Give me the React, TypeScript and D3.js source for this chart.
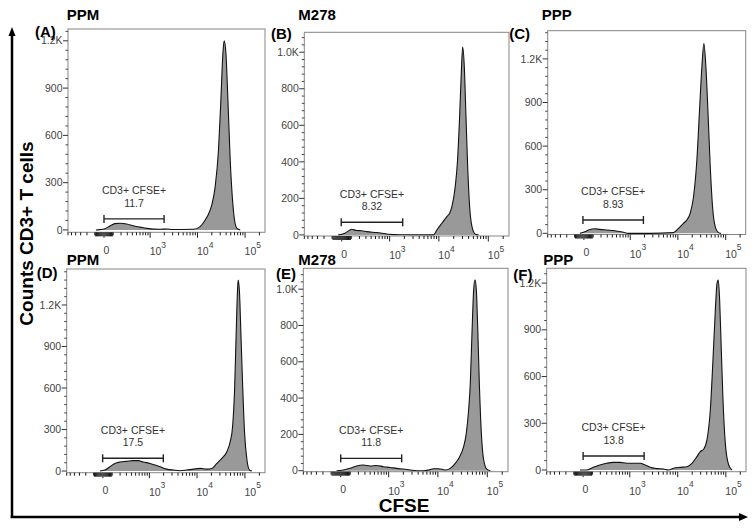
import React from 'react';
import * as d3 from 'd3';

type Pt = [number, number];

// ---------- data ----------
const panelLetters = ['(A)', '(B)', '(C)', '(D)', '(E)', '(F)'];
const panelTitles = ['PPM', 'M278', 'PPP', 'PPM', 'M278', 'PPP'];
const gateName = 'CD3+ CFSE+';
const gatePercents = ['11.7', '8.32', '8.93', '17.5', '11.8', '13.8'];
const gateLow = [0, -5, -10, -3, 0, 0];
const gateHigh = [1980, 1850, 1900, 1970, 1850, 2000];
const gateLevel = [70, 69, 92, 92, 68, 90];

const yMin = [-15, -6, -8, -12, -5.5, -11];
const yMax = [1275, 1109, 1394, 1460, 1115, 1295];
const yMajorStep = [300, 200, 300, 300, 200, 300];
const yMajorTop = [1200, 1000, 1200, 1200, 1000, 1200];

const xMin = -600;
const xMax = 262144;
const xMajorTicks = [0, 1000, 10000, 100000];
const xMajorExp = ['', '3', '4', '5'];

// CFSE intensity, count
const histA: Pt[] = [[-87,0],[-43,2],[10,8],[62,25],[120,40],[184,42],[289,38],[422,26],[600,18],[842,10],[1170,5],[1640,4],[2290,6],[2920,3],[4320,3],[8210,4],[11360,21],[14500,63],[17000,100],[20060,160],[23530,275],[27620,507],[31000,824],[34160,1120],[36400,1200],[39600,1120],[43600,824],[48700,444],[54500,190],[60000,63],[67400,10],[79100,0]];
const histB: Pt[] = [[-35,0],[32,9],[85,27],[103,31],[163,24],[232,23],[313,18],[530,13],[940,4],[1650,1],[7810,0],[9110,27],[11500,64],[14540,100],[16500,118],[18350,155],[21450,264],[23900,410],[26280,646],[28400,883],[30250,1028],[32740,919],[35400,646],[38280,373],[41900,155],[46800,45],[54600,4],[63900,0]];
const histC: Pt[] = [[-42,0],[10,11],[63,27],[121,32],[184,27],[288,23],[460,18],[708,7],[910,0],[2630,0],[8100,5],[10310,34],[13100,69],[15400,92],[18100,137],[21270,252],[24990,504],[28400,847],[31800,1145],[35030,1305],[38580,1145],[42500,847],[47580,458],[53130,183],[60450,46],[71030,5],[80000,0]];
const histD: Pt[] = [[-31,0],[21,7],[74,31],[133,55],[198,65],[306,70],[444,75],[574,75],[742,65],[1030,55],[1330,43],[1690,31],[2330,14],[3210,7],[4430,2],[6100,7],[8420,14],[11600,19],[16000,14],[20370,19],[25910,55],[33000,92],[41900,140],[49260,212],[55140,320],[60700,586],[65600,995],[70000,1309],[72300,1381],[77100,1285],[82300,995],[89200,634],[98300,272],[110100,80],[125000,7],[140000,0]];
const histE: Pt[] = [[-42,0],[26,4],[96,13],[176,26],[274,31],[398,26],[559,29],[776,22],[1070,18],[1470,13],[2010,9],[2750,4],[3755,0],[5120,0],[6480,4],[8170,11],[10330,11],[14100,4],[17800,13],[22520,40],[27570,77],[33200,132],[37590,206],[41900,334],[45300,481],[49000,757],[53000,996],[56380,1051],[60000,996],[63900,794],[69000,481],[75800,206],[84500,59],[98600,7],[115300,0]];
const histF: Pt[] = [[-33,0],[36,0],[109,17],[194,32],[300,43],[436,49],[616,49],[860,43],[1200,43],[1655,43],[2110,32],[2680,17],[3690,9],[5060,6],[6460,0],[8190,11],[11270,17],[15550,21],[19750,43],[25090,86],[29410,118],[34550,133],[40520,193],[47580,385],[54000,706],[60450,1027],[65500,1198],[69700,1220],[74300,1091],[80500,770],[87300,449],[97500,171],[114600,32],[134300,0]];
const histograms = [histA, histB, histC, histD, histE, histF];

// ---------- layout ----------
const boxes = [
  { l: 68, r: 265, t: 29, b: 232.3 },
  { l: 304.3, r: 509, t: 32.3, b: 236 },
  { l: 547.7, r: 745.7, t: 30.7, b: 234.5 },
  { l: 66.7, r: 265, t: 269, b: 472.7 },
  { l: 303.3, r: 508, t: 268.3, b: 471.7 },
  { l: 546.7, r: 746, t: 268.3, b: 471.7 },
];
const titlePos = [[66.7, 20], [298.3, 20], [541.7, 20], [66.7, 265], [298.3, 265], [543.3, 265]];
const letterPos = [[35, 36.7], [271, 39.3], [509.3, 39.3], [36.7, 278.3], [276, 279], [513.3, 280]];

const FONT = '"Liberation Sans", Arial, Helvetica, sans-serif';
const biex = (v: number) => Math.asinh(v / 217) / Math.LN10;

function minorXTicks(): number[] {
  const out: number[] = [];
  for (let v = 10; v < 100; v += 10) { out.push(v, -v); }
  for (let v = 100; v <= 600; v += 100) out.push(-v);
  for (let v = 100; v < 1000; v += 100) out.push(v);
  for (let v = 2000; v < 10000; v += 1000) out.push(v);
  for (let v = 20000; v < 100000; v += 10000) out.push(v);
  out.push(200000);
  return out;
}
const xMinor = minorXTicks();

function fmtY(v: number) {
  return v >= 1000 ? (v / 1000).toFixed(1) + 'K' : String(v);
}

function Panel({ i }: { i: number }) {
  const box = boxes[i];
  const xs = d3.scaleLinear().domain([biex(xMin), biex(xMax)]).range([box.l, box.r]);
  const X = (v: number) => xs(biex(v));
  const y = d3.scaleLinear().domain([yMin[i], yMax[i]]).range([box.b, box.t]);
  const data = histograms[i];
  const area = d3.area<Pt>().x(d => X(d[0])).y0(y(0)).y1(d => y(d[1])).curve(d3.curveMonotoneX);
  const line = d3.line<Pt>().x(d => X(d[0])).y(d => y(d[1])).curve(d3.curveMonotoneX);

  const majors = d3.range(0, yMajorTop[i] + 1, yMajorStep[i]);
  const minorStep = yMajorStep[i] / 5;
  const minors = d3.range(0, yMax[i], minorStep).filter(v => Math.abs(v % yMajorStep[i]) > 1e-6);

  const gy = y(gateLevel[i]);
  const gx0 = X(gateLow[i]);
  const gx1 = X(gateHigh[i]);
  const gmid = (gx0 + gx1) / 2;
  const clipId = 'clip' + i;

  return (
    <g>
      <defs>
        <clipPath id={clipId}>
          <rect x={box.l} y={box.t} width={box.r - box.l} height={box.b - box.t} />
        </clipPath>
      </defs>
      <g clipPath={`url(#${clipId})`}>
        <path d={area(data) || ''} fill="#999999" />
        <path d={line(data) || ''} fill="none" stroke="#111" strokeWidth={1.1} />
      </g>
      <rect x={box.l} y={box.t} width={box.r - box.l} height={box.b - box.t} fill="none" stroke="#858585" strokeWidth={1} />
      {/* y axis */}
      {minors.map(v => (
        <line key={'ym' + v} x1={box.l - 2.5} x2={box.l} y1={y(v)} y2={y(v)} stroke="#444" strokeWidth={1} />
      ))}
      {majors.map(v => (
        <g key={'yM' + v}>
          <line x1={box.l - 5} x2={box.l} y1={y(v)} y2={y(v)} stroke="#333" strokeWidth={1} />
          <text x={box.l - 5.5} y={y(v)} dy="0.35em" textAnchor="end" fontSize={10.5} fill="#444" fontFamily={FONT}>{fmtY(v)}</text>
        </g>
      ))}
      {/* x axis */}
      {xMinor.map(v => (
        <line key={'xm' + v} x1={X(v)} x2={X(v)} y1={box.b} y2={box.b + (Math.abs(v) < 100 ? 4 : 3)} stroke="#1a1a1a" strokeWidth={1} />
      ))}
      {xMajorTicks.map((v, k) => (
        <g key={'xM' + v}>
          <line x1={X(v)} x2={X(v)} y1={box.b} y2={box.b + 5.5} stroke="#222" strokeWidth={1} />
          {k === 0 ? (
            <text x={X(v) - 0.5} y={box.b + 21.5} fontSize={10.5} fill="#444" fontFamily={FONT}>0</text>
          ) : (
            <text x={X(v) - 0.5} y={box.b + 23} fontSize={10.5} fill="#444" fontFamily={FONT}>
              10<tspan fontSize={8.5} dy={-7.5}>{xMajorExp[k]}</tspan>
            </text>
          )}
        </g>
      ))}
      {/* gate */}
      <line x1={gx0} x2={gx1} y1={gy} y2={gy} stroke="#222" strokeWidth={1.4} />
      <line x1={gx0} x2={gx0} y1={gy - 4} y2={gy + 4} stroke="#222" strokeWidth={1.4} />
      <line x1={gx1} x2={gx1} y1={gy - 4} y2={gy + 4} stroke="#222" strokeWidth={1.4} />
      <text x={gmid} y={gy - 24.5} textAnchor="middle" fontSize={10.5} fill="#333" fontFamily={FONT}>{gateName}</text>
      <text x={gmid} y={gy - 12} textAnchor="middle" fontSize={10.5} fill="#333" fontFamily={FONT}>{gatePercents[i]}</text>
      {/* titles */}
      <text x={titlePos[i][0]} y={titlePos[i][1]} fontSize={15} fontWeight="bold" fill="#000" fontFamily={FONT}>{panelTitles[i]}</text>
      <text x={letterPos[i][0]} y={letterPos[i][1]} fontSize={15} fontWeight="bold" fill="#000" fontFamily={FONT}>{panelLetters[i]}</text>
    </g>
  );
}

export default function App() {
  return (
    <svg width={754} height={529} style={{ position: 'absolute', left: 0, top: 0, background: '#fff' }}>
      <rect x={0} y={0} width={754} height={529} fill="#fff" />
      {histograms.map((_, i) => <Panel key={i} i={i} />)}
      {/* global axes arrows */}
      <line x1={12} x2={12} y1={518} y2={34} stroke="#000" strokeWidth={2.5} />
      <polygon points="12,27 8.5,36 15.5,36" fill="#000" />
      <line x1={10.75} x2={740} y1={517} y2={517} stroke="#000" strokeWidth={2.5} />
      <polygon points="748,517 739,513 739,521" fill="#000" />
      <text transform="translate(33,233.5) rotate(-90)" textAnchor="middle" fontSize={19} fontWeight="bold" fill="#000" fontFamily={FONT}>Counts CD3+ T cells</text>
      <text x={404} y={511.7} textAnchor="middle" fontSize={19} fontWeight="bold" fill="#000" fontFamily={FONT}>CFSE</text>
    </svg>
  );
}
